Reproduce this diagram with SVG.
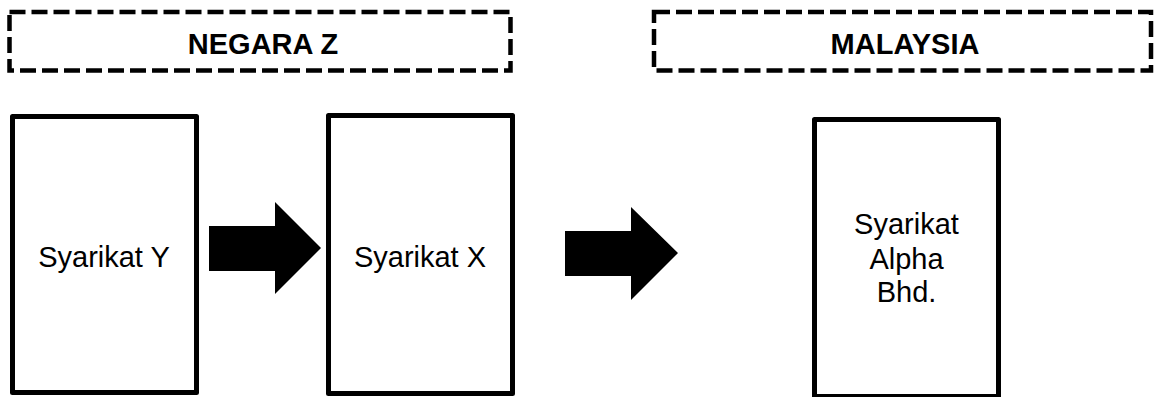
<svg xmlns="http://www.w3.org/2000/svg" width="1155" height="397" viewBox="0 0 1155 397">
<style>
.region{fill:none;stroke:#000;stroke-width:4.5;stroke-dasharray:16 6}
.box{fill:#fff;stroke:#000;stroke-width:5;stroke-linejoin:round}
.hd{font-family:"Liberation Sans",Arial,sans-serif;font-weight:bold;font-size:29px;fill:#000;text-anchor:middle}
.lb{font-family:"Liberation Sans",Arial,sans-serif;font-size:29px;fill:#000;text-anchor:middle}
.arrow{fill:#000;stroke:none}
</style>
<rect width="1155" height="397" fill="#fff"/>
<g id="region-negara-z">
<rect class="region" x="9.5" y="12" width="501" height="58.5"/>
<text class="hd" x="263" y="54">NEGARA Z</text>
</g>
<g id="region-malaysia">
<rect class="region" x="654" y="12" width="497" height="58.5"/>
<text class="hd" x="905" y="54">MALAYSIA</text>
</g>
<g id="node-syarikat-y">
<rect class="box" x="12.5" y="116.5" width="184" height="276"/>
<text class="lb" x="104" y="267">Syarikat Y</text>
</g>
<g id="node-syarikat-x">
<rect class="box" x="328.5" y="115.5" width="184" height="278"/>
<text class="lb" x="420" y="267">Syarikat X</text>
</g>
<g id="node-syarikat-alpha">
<rect class="box" x="814.5" y="119.5" width="184" height="277"/>
<text class="lb" x="906.5" y="234">Syarikat</text>
<text class="lb" x="906.5" y="269">Alpha</text>
<text class="lb" x="906.5" y="302">Bhd.</text>
</g>
<g id="connectors">
<polygon class="arrow" points="209,226 275,226 275,202 321,248 275,294 275,271 209,271"/>
<polygon class="arrow" points="565,231 631,231 631,207 678,253 631,300 631,276 565,276"/>
</g>
</svg>
